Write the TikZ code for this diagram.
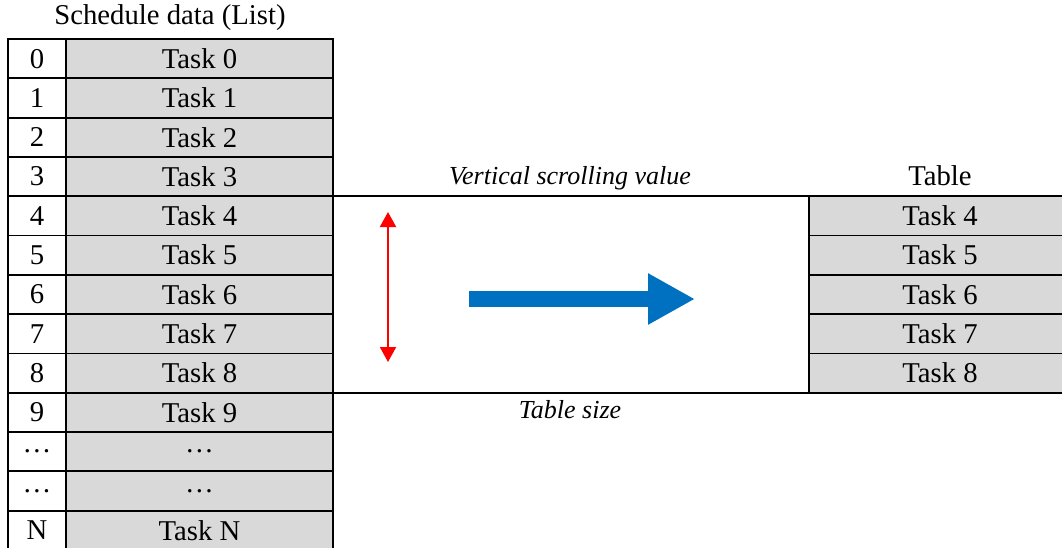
\documentclass[tikz,border=0pt]{standalone}
\usepackage{fontspec}
\setmainfont{Liberation Serif}
\usetikzlibrary{positioning,arrows.meta}
\definecolor{cellgray}{RGB}{217,217,217}
\definecolor{arrowblue}{RGB}{0,112,192}
\tikzset{
idx/.style={draw,line width=1.8pt,fill=white,minimum width=58pt,minimum height=39.3pt,inner sep=0pt,outer sep=0pt,font=\fontsize{28.7}{30}\selectfont},
cell/.style={idx,fill=cellgray,minimum width=267pt},
caption/.style={font=\fontsize{26}{28}\selectfont\itshape}
}
\begin{document}
\begin{tikzpicture}[x=1pt,y=-1pt]
\useasboundingbox(0,0)rectangle(1062,547);
\node[idx,anchor=north west](i0)at(8,39){0};
\node[cell,right=0pt of i0](t0){Task 0};
\node[idx,below=0pt of i0](i1){1};
\node[cell,right=0pt of i1](t1){Task 1};
\node[idx,below=0pt of i1](i2){2};
\node[cell,right=0pt of i2](t2){Task 2};
\node[idx,below=0pt of i2](i3){3};
\node[cell,right=0pt of i3](t3){Task 3};
\node[idx,below=0pt of i3](i4){4};
\node[cell,right=0pt of i4](t4){Task 4};
\node[idx,below=0pt of i4](i5){5};
\node[cell,right=0pt of i5](t5){Task 5};
\node[idx,below=0pt of i5](i6){6};
\node[cell,right=0pt of i6](t6){Task 6};
\node[idx,below=0pt of i6](i7){7};
\node[cell,right=0pt of i7](t7){Task 7};
\node[idx,below=0pt of i7](i8){8};
\node[cell,right=0pt of i8](t8){Task 8};
\node[idx,below=0pt of i8](i9){9};
\node[cell,right=0pt of i9](t9){Task 9};
\node[idx,below=0pt of i9](ia){\dots};
\node[cell,right=0pt of ia](ta){\dots};
\node[idx,below=0pt of ia](ib){\dots};
\node[cell,right=0pt of ib](tb){\dots};
\node[idx,below=0pt of ib](iN){N};
\node[cell,right=0pt of iN](tN){Task N};
\node[font=\fontsize{28.7}{30}\selectfont](list)at(170,18){Schedule data (List)};
% view window and table
\node[draw,line width=1.8pt,anchor=north west,minimum width=476pt,minimum height=196.5pt,inner sep=0pt,outer sep=0pt](view)at(t4.north east){};
\node[cell,minimum width=262pt,anchor=north west](r4)at(view.north east){Task 4};
\node[cell,minimum width=262pt,below=0pt of r4](r5){Task 5};
\node[cell,minimum width=262pt,below=0pt of r5](r6){Task 6};
\node[cell,minimum width=262pt,below=0pt of r6](r7){Task 7};
\node[cell,minimum width=262pt,below=0pt of r7](r8){Task 8};
\node[font=\fontsize{28.7}{30}\selectfont](table)at(940,176){Table};
\node[caption](scroll)at(570,178){Vertical scrolling value};
\node[caption](size)at(570,410){Table size};
% arrows
\coordinate(rtop)at(388,212);
\coordinate(rbot)at(388,362);
\draw[<->,>={Triangle[width=16pt,length=15pt]},red,line width=2pt](rtop)--(rbot);
\coordinate(bstart)at(469,299);
\coordinate(bend)at(695,299);
\draw[-{Triangle[width=48pt,length=47pt]},arrowblue,line width=16pt](bstart)--(bend);
\end{tikzpicture}
\end{document}
